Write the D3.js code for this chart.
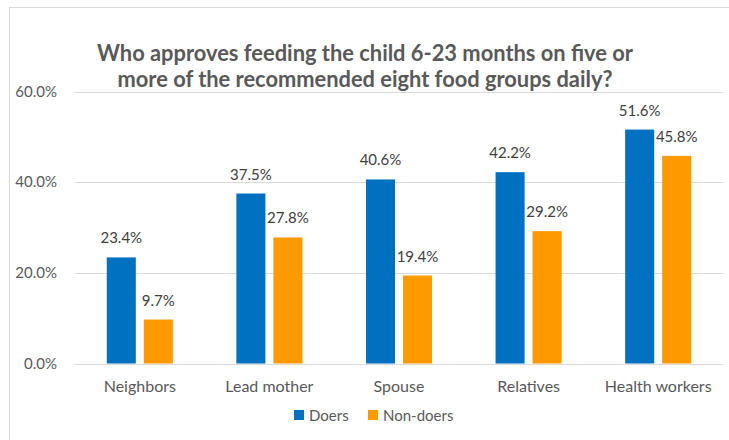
<!DOCTYPE html>
<html>
<head>
<meta charset="utf-8">
<script src="https://cdn.jsdelivr.net/npm/d3@7"></script>
<style>
  html, body { margin: 0; padding: 0; background: #ffffff; }
  svg { display: block; font-family: Lato, "Noto Sans", sans-serif; }
</style>
</head>
<body>
<svg id="chart" width="729" height="440"></svg>
<script>
// Approval of feeding 5+ of 8 food groups daily, by influencer group
const categories = ["Neighbors", "Lead mother", "Spouse", "Relatives", "Health workers"];
const seriesNames = ["Doers", "Non-doers"];
const doers    = [23.4, 37.5, 40.6, 42.2, 51.6];
const nonDoers = [9.7, 27.8, 19.4, 29.2, 45.8];
const yTicks = [0, 20, 40, 60];
const titleLines = [
  "Who approves feeding the child 6-23 months on five or",
  "more of the recommended eight food groups daily?"
];
const colors = ["#0070C0", "#FF9900"];

const svg = d3.select("#chart");
const W = 729, H = 440;

// chart frame
svg.append("rect")
  .attr("x", 9.5).attr("y", 7.5)
  .attr("width", W + 10).attr("height", H + 10)
  .attr("fill", "#ffffff").attr("stroke", "#d9d9d9").attr("stroke-width", 1);

const plot = { left: 75, right: 723, top: 91.5, bottom: 363.5 };

const x = d3.scaleBand().domain(categories).range([plot.left, plot.right]).padding(0);
const xSub = d3.scaleBand().domain(seriesNames).range([0, x.bandwidth()])
  .paddingInner(0.216).paddingOuter(0.858);
const y = d3.scaleLinear().domain([0, 60]).range([plot.bottom, plot.top]);

// gridlines
svg.append("g").selectAll("line").data(yTicks).join("line")
  .attr("x1", plot.left).attr("x2", plot.right)
  .attr("y1", d => Math.round(y(d)) + 0.5).attr("y2", d => Math.round(y(d)) + 0.5)
  .attr("stroke", "#d9d9d9").attr("stroke-width", 1);

// y axis labels
const yAxis = d3.axisLeft(y).tickValues(yTicks).tickSize(0).tickPadding(0)
  .tickFormat(d => d3.format(".1f")(d) + "%");
svg.append("g").attr("transform", `translate(57,0)`).call(yAxis)
  .call(g => g.select(".domain").remove())
  .selectAll("text")
  .attr("font-family", "Lato, 'Noto Sans', sans-serif")
  .attr("font-size", 15).attr("fill", "#595959");

// x axis labels
const xAxis = d3.axisBottom(x).tickSize(0).tickPadding(0);
svg.append("g").attr("transform", `translate(0,${plot.bottom})`).call(xAxis)
  .call(g => g.select(".domain").remove())
  .selectAll("text")
  .attr("dy", null).attr("y", 28.5)
  .attr("font-family", "Lato, 'Noto Sans', sans-serif")
  .attr("font-size", 16).attr("fill", "#595959");

// bars
const seriesData = [doers, nonDoers];
const rows = [];
seriesData.forEach((vals, si) => vals.forEach((v, ci) =>
  rows.push({ cat: categories[ci], series: seriesNames[si], si, v })));

const barG = svg.append("g");
barG.selectAll("rect").data(rows).join("rect")
  .attr("x", d => x(d.cat) + xSub(d.series))
  .attr("y", d => y(d.v))
  .attr("width", xSub.bandwidth())
  .attr("height", d => y(0) - y(d.v))
  .attr("fill", d => colors[d.si]);

// value labels
barG.selectAll("text").data(rows).join("text")
  .attr("x", d => x(d.cat) + xSub(d.series) + xSub.bandwidth() / 2)
  .attr("y", d => y(d.v) - 14)
  .attr("text-anchor", "middle")
  .attr("font-size", 15).attr("fill", "#404040")
  .text(d => d3.format(".1f")(d.v) + "%");

// title
const titleWidths = [536, 495];
svg.append("g").selectAll("text").data(titleLines).join("text")
  .attr("x", 365).attr("y", (d, i) => 61 + i * 26)
  .attr("text-anchor", "middle")
  .attr("font-size", 22).attr("font-weight", "bold").attr("fill", "#595959")
  .attr("textLength", (d, i) => titleWidths[i])
  .attr("lengthAdjust", "spacingAndGlyphs")
  .text(d => d);

// legend
const legend = svg.append("g");
const legendItems = [{ name: "Doers", x: 294 }, { name: "Non-doers", x: 368 }];
legendItems.forEach((it, i) => {
  legend.append("rect").attr("x", it.x).attr("y", 410).attr("width", 10).attr("height", 10)
    .attr("fill", colors[i]);
  legend.append("text").attr("x", it.x + 15).attr("y", 420.5)
    .attr("font-size", 15).attr("fill", "#595959").text(it.name);
});
</script>
</body>
</html>
